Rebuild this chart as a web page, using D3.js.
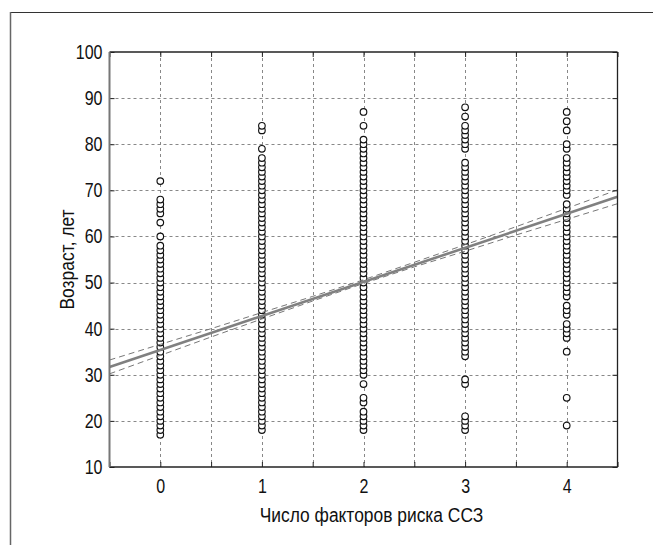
<!DOCTYPE html>
<html><head><meta charset="utf-8">
<script src="https://cdn.jsdelivr.net/npm/d3@7"></script>
<style>body{margin:0;background:#fff}svg{display:block}</style>
</head><body>
<script>
// ---- data ----
function range(a,b){const r=[];for(let v=a;v<=b;v++)r.push(v);return r;}
const ages0 = [...range(17,58),60,63,65,66,67,68,72];
const ages1 = [...range(18,77),79,83,84];
const ages2 = [18,19,20,21,22,24,25,28,30,...range(31,81),84,87];
const ages3 = [18,19,20,21,28,29,...range(34,76),79,80,81,82,83,84,86,88];
const ages4 = [19,25,35,38,39,40,41,43,44,45,...range(47,67),...range(69,77),79,80,83,85,87];
const groups = [0,1,2,3,4];
const agesByGroup = [ages0,ages1,ages2,ages3,ages4];
const fitX = [-0.5,4.5];
const fitY = [31.7,68.6];
const bandX = [-0.5,0,0.5,1,1.5,2,2.5,3,3.5,4,4.5];
const bandUpper = [33.2,36.6,40.0,43.5,47.0,50.6,54.4,58.2,62.1,66.1,70.1];
const bandLower = [30.2,34.2,38.2,42.1,46.0,49.8,53.4,56.8,60.3,63.7,67.1];
const xTicks = [-0.5,0,0.5,1,1.5,2,2.5,3,3.5,4,4.5];
const xTickLabels = ["","0","","1","","2","","3","","4",""];
const yTicks = [10,20,30,40,50,60,70,80,90,100];
const xLabel = "Число факторов риска ССЗ";
const yLabel = "Возраст, лет";

// ---- layout ----
const W=653,H=545;
const L=109.5,R=617.5,T=52,B=467;
const font='"Liberation Sans",Arial,sans-serif';
const NARROW=0.8, LABEL_NARROW=0.87;
const svg=d3.select("body").append("svg").attr("width",W).attr("height",H);
svg.append("rect").attr("width",W).attr("height",H).attr("fill","#fff");
// frame (top and left only)
svg.append("line").attr("x1",10).attr("x2",W).attr("y1",12.5).attr("y2",12.5).attr("stroke","#333").attr("stroke-width",1.2);
svg.append("line").attr("x1",10.5).attr("x2",10.5).attr("y1",12).attr("y2",H).attr("stroke","#666").attr("stroke-width",1.5);

const x=d3.scaleLinear().domain([-0.5,4.5]).range([L,R]);
const y=d3.scaleLinear().domain([10,100]).range([B,T]);

// grid
const g=svg.append("g");
g.selectAll("line.gx").data(xTicks.slice(1,-1)).join("line")
 .attr("x1",d=>Math.round(x(d))+0.5).attr("x2",d=>Math.round(x(d))+0.5).attr("y1",T).attr("y2",B)
 .attr("stroke","#888").attr("stroke-width",1).attr("stroke-dasharray","3,3");
g.selectAll("line.gy").data(yTicks.slice(1,-1)).join("line")
 .attr("y1",d=>Math.round(y(d))+0.5).attr("y2",d=>Math.round(y(d))+0.5).attr("x1",L).attr("x2",R)
 .attr("stroke","#888").attr("stroke-width",1).attr("stroke-dasharray","3,3");

// points
groups.forEach((gr,i)=>{
  svg.append("g").selectAll("circle").data(agesByGroup[i]).join("circle")
   .attr("cx",x(gr)).attr("cy",d=>y(d)).attr("r",3.3)
   .attr("fill","#fff").attr("stroke","#111").attr("stroke-width",1.15);
});

// confidence band
const lineGen=d3.line().x(d=>x(d[0])).y(d=>y(d[1]));
[bandUpper,bandLower].forEach(arr=>{
  svg.append("path").attr("d",lineGen(bandX.map((v,i)=>[v,arr[i]])))
   .attr("fill","none").attr("stroke","#777").attr("stroke-width",1).attr("stroke-dasharray","6,4");
});
// fit line
svg.append("path").attr("d",lineGen(fitX.map((v,i)=>[v,fitY[i]])))
 .attr("fill","none").attr("stroke","#808080").attr("stroke-width",2.6);

// axes
const axB=d3.axisBottom(x).tickValues(xTicks).tickFormat((d,i)=>xTickLabels[i]).tickSizeInner(-5).tickSizeOuter(0).tickPadding(12);
const axT=d3.axisTop(x).tickValues(xTicks).tickFormat("").tickSizeInner(-5).tickSizeOuter(0);
const axL=d3.axisLeft(y).tickValues(yTicks).tickSizeInner(-5).tickSizeOuter(0).tickPadding(7);
const axR=d3.axisRight(y).tickValues(yTicks).tickFormat("").tickSizeInner(-5).tickSizeOuter(0);
function narrowBy(f){return sel=>sel.each(function(){const n=this.getComputedTextLength();if(n>0){d3.select(this).attr("textLength",n*f).attr("lengthAdjust","spacingAndGlyphs");}});}
function style(sel){sel.select(".domain").remove();sel.selectAll("line").attr("stroke","#222");
  sel.selectAll("text").attr("font-family",font).attr("font-size",20).attr("fill","#111").call(narrowBy(NARROW));}
svg.append("g").attr("transform",`translate(0,${B})`).call(axB).call(style);
svg.append("g").attr("transform",`translate(0,${T})`).call(axT).call(style);
svg.append("g").attr("transform",`translate(${L},0)`).call(axL).call(style);
svg.append("g").attr("transform",`translate(${R},0)`).call(axR).call(style);
// box
svg.append("line").attr("x1",L).attr("x2",R).attr("y1",T).attr("y2",T).attr("stroke","#222").attr("stroke-width",1.3);
svg.append("line").attr("x1",L).attr("x2",R).attr("y1",B).attr("y2",B).attr("stroke","#222").attr("stroke-width",1.5);
svg.append("line").attr("x1",R).attr("x2",R).attr("y1",T).attr("y2",B).attr("stroke","#222").attr("stroke-width",1.3);
svg.append("line").attr("x1",L).attr("x2",L).attr("y1",T).attr("y2",B).attr("stroke","#777").attr("stroke-width",2);

// labels
svg.append("text").attr("x",371.5).attr("y",522).attr("text-anchor","middle")
 .attr("font-family",font).attr("font-size",20).attr("fill","#111").text(xLabel).call(narrowBy(LABEL_NARROW));
svg.append("text").attr("transform",`translate(74,${(T+B)/2}) rotate(-90)`).attr("text-anchor","middle")
 .attr("font-family",font).attr("font-size",20).attr("fill","#111").text(yLabel).call(narrowBy(LABEL_NARROW));
</script>
</body></html>
